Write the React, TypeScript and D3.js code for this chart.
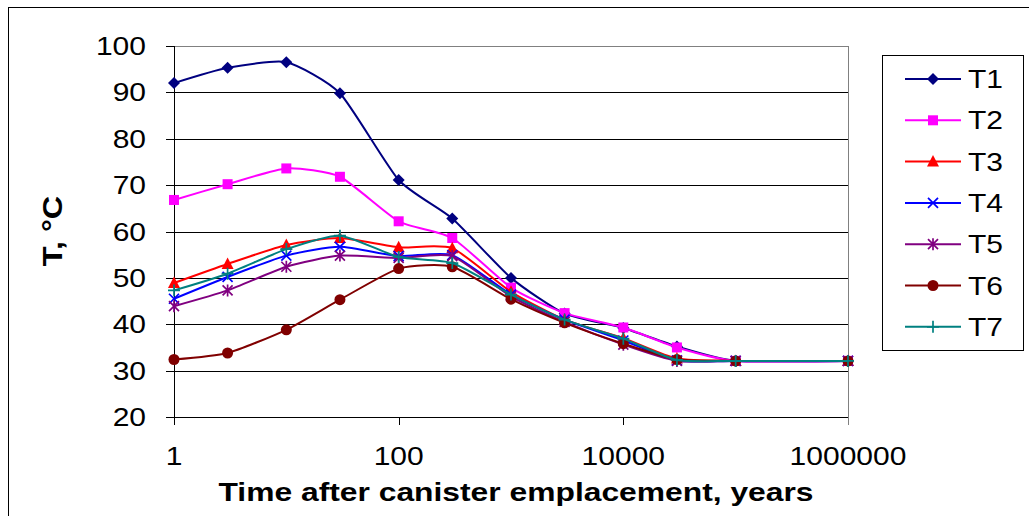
import React from 'react';
import * as d3 from 'd3';

// time after emplacement (years), log axis
const years = [1, 3, 10, 30, 100, 300, 1000, 3000, 10000, 30000, 100000, 1000000];

const t1 = [92, 95.3, 96.5, 89.8, 71.1, 62.8, 50, 42.3, 39.2, 35.2, 32.1, 32.1];
const t2 = [66.8, 70.2, 73.6, 71.8, 62.2, 58.6, 47.9, 42.4, 39.3, 35, 32.1, 32.1];
const t3 = [48.9, 53, 57.1, 58.6, 56.6, 56.4, 47, 41, 37, 32.6, 32.1, 32.1];
const t4 = [45.5, 50.2, 54.8, 56.7, 54.7, 54.9, 46.4, 41, 36.5, 32.2, 32.1, 32.1];
const t5 = [43.9, 47.3, 52.4, 54.8, 54.3, 54.7, 46, 40.5, 35.6, 32.1, 32.1, 32.1];
const t6 = [32.4, 33.8, 38.8, 45.3, 52, 52.4, 45.4, 40.3, 35.8, 32.4, 32.1, 32.1];
const t7 = [47.3, 50.9, 56.2, 59.1, 54.5, 53.2, 46.4, 41, 36.9, 32.3, 32.1, 32.1];

const seriesNames = ['T1', 'T2', 'T3', 'T4', 'T5', 'T6', 'T7'];
const seriesValues = [t1, t2, t3, t4, t5, t6, t7];
const seriesColors = ['#000080', '#FF00FF', '#FF0000', '#0000FF', '#800080', '#800000', '#008080'];
const markerKinds = ['diamond', 'square', 'triangle', 'x', 'star', 'circle', 'plus'];

const xTickLabels = [1, 100, 10000, 1000000];
const yTickValues = [20, 30, 40, 50, 60, 70, 80, 90, 100];

const FONT = 'Arial, "Liberation Sans", sans-serif';
const STRETCH = 1.2; // the original text is a bit wider than plain Arial

const Label: React.FC<{ x: number; y: number; anchor?: string; size: number; bold?: boolean; rotate?: number; children: React.ReactNode }> =
  ({ x, y, anchor = 'start', size, bold, rotate = 0, children }) => (
    <g transform={`translate(${x},${y}) rotate(${rotate}) scale(${STRETCH},1)`}>
      <text textAnchor={anchor} fontFamily={FONT} fontSize={size} fontWeight={bold ? 'bold' : 'normal'}>{children}</text>
    </g>
  );

const Marker: React.FC<{ kind: string; color: string; x: number; y: number }> = ({ kind, color, x, y }) => {
  const t = `translate(${x},${y})`;
  switch (kind) {
    case 'diamond':
      return <path transform={t} d="M0,-6L6,0L0,6L-6,0Z" fill={color} />;
    case 'square':
      return <rect transform={t} x={-5} y={-5} width={10} height={10} fill={color} />;
    case 'triangle':
      return <path transform={t} d="M0,-6.5L6,5L-6,5Z" fill={color} />;
    case 'x':
      return <path transform={t} d="M-5,-5L5,5M-5,5L5,-5" stroke={color} strokeWidth={1.7} fill="none" />;
    case 'star':
      return <path transform={t} d="M-5,-5L5,5M-5,5L5,-5M0,-6L0,6" stroke={color} strokeWidth={1.7} fill="none" />;
    case 'circle':
      return <circle transform={t} r={5.5} fill={color} />;
    default:
      return <path transform={t} d="M-6,0L6,0M0,-6L0,6" stroke={color} strokeWidth={1.7} fill="none" />;
  }
};

const App: React.FC = () => {
  const width = 1029;
  const height = 516;
  const plot = { left: 174, right: 848, top: 46, bottom: 417 };

  const x = d3.scaleLog().domain([1, 1000000]).range([plot.left, plot.right]);
  const y = d3.scaleLinear().domain([20, 100]).range([plot.bottom, plot.top]);

  const line = d3.line<number>()
    .x((_, i) => x(years[i]))
    .y(d => y(d))
    .curve(d3.curveCardinal.tension(0.4));

  const legendX = 882;
  const legendY = 55;
  const legendStep = 41.3;

  return (
    <div style={{ position: 'fixed', left: 0, top: 0 }}>
      <svg width={width} height={height} style={{ display: 'block', background: '#fff' }}>
        {/* outer chart frame */}
        <rect x={8.5} y={7.5} width={1200} height={700} fill="none" stroke="#000" strokeWidth={1} />

        {/* gridlines */}
        {yTickValues.filter(v => v > 20 && v < 100).map(v => (
          <line key={v} x1={plot.left} x2={plot.right} y1={Math.round(y(v)) + 0.5} y2={Math.round(y(v)) + 0.5}
            stroke="#000" strokeWidth={1} />
        ))}
        <rect x={plot.left + 0.5} y={plot.top + 0.5} width={plot.right - plot.left} height={plot.bottom - plot.top}
          fill="none" stroke="#808080" strokeWidth={1} />

        {/* y axis */}
        <line x1={plot.left + 0.5} x2={plot.left + 0.5} y1={plot.top} y2={plot.bottom + 8} stroke="#000" />
        {yTickValues.map(v => (
          <g key={v}>
            <line x1={plot.left - 8} x2={plot.left} y1={Math.round(y(v)) + 0.5} y2={Math.round(y(v)) + 0.5} stroke="#000" />
            <Label x={plot.left - 28} y={y(v) + 9} anchor="end" size={25}>{v}</Label>
          </g>
        ))}

        {/* x axis */}
        <line x1={plot.left} x2={plot.right} y1={plot.bottom + 0.5} y2={plot.bottom + 0.5} stroke="#000" />
        {xTickLabels.map(v => (
          <g key={v}>
            <line x1={Math.round(x(v)) + 0.5} x2={Math.round(x(v)) + 0.5} y1={plot.bottom} y2={plot.bottom + 8}
              stroke={v === 1000000 ? '#808080' : '#000'} />
            <Label x={x(v)} y={465} anchor="middle" size={25}>{v}</Label>
          </g>
        ))}

        {/* axis titles */}
        <Label x={516} y={501} anchor="middle" size={26.5} bold>Time after canister emplacement, years</Label>
        <Label x={62} y={231} anchor="middle" size={27} bold rotate={-90}>T, °C</Label>

        {/* series */}
        {seriesValues.map((vals, si) => (
          <g key={seriesNames[si]}>
            <path d={line(vals) || ''} fill="none" stroke={seriesColors[si]} strokeWidth={2} />
            {vals.map((v, i) => (
              <Marker key={i} kind={markerKinds[si]} color={seriesColors[si]} x={x(years[i])} y={y(v)} />
            ))}
          </g>
        ))}

        {/* legend */}
        <rect x={legendX + 0.5} y={legendY + 0.5} width={141} height={295} fill="#fff" stroke="#000" />
        {seriesNames.map((name, i) => {
          const cy = legendY + 24 + i * legendStep;
          return (
            <g key={name}>
              <line x1={905} x2={961} y1={cy} y2={cy} stroke={seriesColors[i]} strokeWidth={2} />
              <Marker kind={markerKinds[i]} color={seriesColors[i]} x={933} y={cy} />
              <Label x={968} y={cy + 9} size={25}>{name}</Label>
            </g>
          );
        })}
      </svg>
    </div>
  );
};

export default App;
